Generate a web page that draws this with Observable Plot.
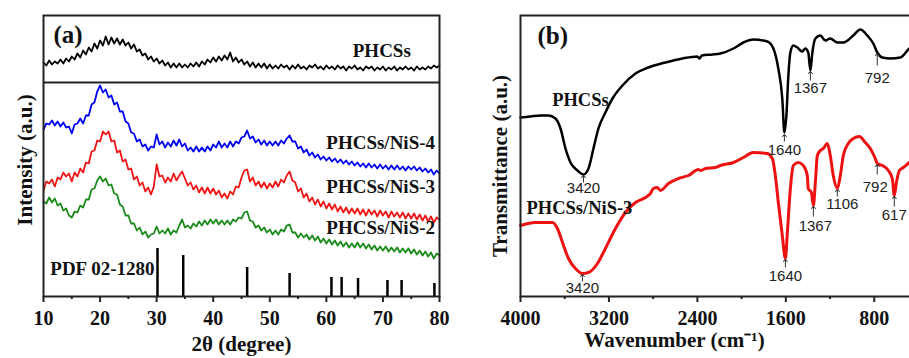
<!DOCTYPE html>
<html><head><meta charset="utf-8">
<script src="https://cdn.jsdelivr.net/npm/d3@7"></script>
<script src="https://cdn.jsdelivr.net/npm/@observablehq/plot@0.6"></script>
<style>
body{margin:0;background:#fff}
#wrap{position:relative;width:909px;height:358px;overflow:hidden;background:#fff}
#a{position:absolute;left:0;top:0;width:450px;height:358px}
#b{position:absolute;left:450px;top:0;width:480px;height:358px}
#wrap svg{max-width:none !important}
</style></head><body><div id="wrap"><div id="a"></div><div id="b"></div></div>
<script>
// ---------- Panel (a): XRD ----------
const xrdAngles = [10,10.5,11,11.5,12,12.5,13,13.5,14,14.5,15,15.5,16,16.5,17,17.5,18,18.5,19,19.5,20,20.5,21,21.5,22,22.5,23,23.5,24,24.5,25,25.5,26,26.5,27,27.5,28,28.5,29,29.5,30,30.5,31,31.5,32,32.5,33,33.5,34,34.5,35,35.5,36,36.5,37,37.5,38,38.5,39,39.5,40,40.5,41,41.5,42,42.5,43,43.5,44,44.5,45,45.5,46,46.5,47,47.5,48,48.5,49,49.5,50,50.5,51,51.5,52,52.5,53,53.5,54,54.5,55,55.5,56,56.5,57,57.5,58,58.5,59,59.5,60,60.5,61,61.5,62,62.5,63,63.5,64,64.5,65,65.5,66,66.5,67,67.5,68,68.5,69,69.5,70,70.5,71,71.5,72,72.5,73,73.5,74,74.5,75,75.5,76,76.5,77,77.5,78,78.5,79,79.5,80];
const xrdPHCSs = [234,231,236,232,235,233,237,233,238,235, 240,237,243,239,246,242,249,245,253,248, 256,251,260,252,259,253,258,252,257,251, 254,248,252,245,247,241,243,237,240,235, 238,233,236,231,234,229,233,229,233,229, 232,229,233,230,234,230,235,232,237,234, 239,235,240,236,241,237,244,235,239,234, 237,232,235,230,234,229,233,229,233,228, 232,228,231,228,232,229,231,227,231,228, 232,228,230,227,231,229,232,228,230,227, 231,228,230,227,231,228,230,226,230,228, 231,227,229,226,230,228,230,226,229,227, 230,226,229,227,230,226,229,227,230,227, 229,226,230,227,229,227,230,228,231,229, 231];
const xrdNiS4 = [167,173,172,176,171,175,170,174,169,170, 163,172,173,178,173,181,181,192,194,205, 211,204,207,199,201,192,194,185,185,175, 173,164,163,155,157,150,152,146,150,149, 162,152,155,149,154,150,156,151,157,150, 153,146,149,145,150,145,149,145,150,146, 152,149,155,149,153,149,155,150,155,153, 159,160,166,158,160,154,157,152,156,151, 155,151,155,151,156,153,158,161,155,155, 148,150,144,147,141,144,139,142,137,140, 136,139,135,138,134,137,133,136,132,135, 131,134,130,133,129,133,129,132,128,132, 128,131,127,131,127,131,127,130,126,130, 127,130,126,129,125,128,124,127,122,126, 123];
const xrdNiS3 = [106,115,113,117,110,119,117,124,120,123, 115,124,120,128,124,134,133,145,146,156, 155,165,162,165,155,156,144,146,135,137, 127,128,117,120,111,114,105,109,102,110, 132,120,121,114,119,115,123,116,121,125, 118,111,114,107,111,104,109,103,109,103, 108,102,106,99,103,98,105,102,110,109, 119,126,127,115,119,111,115,109,114,108, 113,109,115,110,117,114,121,125,116,114, 105,108,99,103,95,99,92,97,90,95, 88,93,87,92,85,90,84,89,83,88, 83,88,82,87,81,87,82,86,80,86, 81,85,79,85,80,84,79,84,78,83, 78,83,77,82,76,81,75,80,74,79, 77];
const xrdNiS2 = [95,93,99,94,98,91,93,86,88,81, 79,85,84,91,89,97,97,107,108,116, 120,115,118,111,112,103,102,92,90,81, 81,73,73,66,69,62,65,59,62,63, 70,63,66,63,68,62,66,64,71,77, 69,71,68,73,70,75,71,76,72,77, 73,77,72,76,72,76,72,77,75,79, 78,84,85,76,75,69,71,66,69,64, 67,62,66,62,67,65,71,72,64,64, 59,63,59,62,57,61,56,60,54,58, 53,57,52,56,51,55,50,54,49,53, 49,54,49,53,48,52,47,51,46,50, 46,50,45,49,45,49,44,48,44,48, 43,47,42,46,41,45,40,44,38,43, 41];
const xrdNames = ["PHCSs","PHCSs/NiS-4","PHCSs/NiS-3","PHCSs/NiS-2"];
const xrdColors = ["#000000","#0000f2","#f01414","#1a8a1a"];
const xrdLabelX = [69.8, 69.6, 69.6, 69.6];
const xrdLabelY = [246, 154, 110, 69];
const pdfPositions = [30.15,34.7,46,53.5,60.9,62.7,65.6,70.8,73.3,79.1];
const pdfHeights = [48,41,29,23,19,19,18,16,16,13];
const dividerLevel = 214;
const xrdMajorTicks = [10,20,30,40,50,60,70,80];
const xrdMinorTicks = [15,25,35,45,55,65,75];

// ---------- Panel (b): FTIR ----------
const ftirWnPHCSs = [4000,3910,3819,3747,3684,3638,3593,3548,3485,3430,3385,3340,3295,3232,3168,3078,2960,2843,2689,2535,2400,2380,2360,2264,2192,2074,1984,1894,1767,1713,1668,1632,1613,1595,1577,1559,1532,1496,1451,1424,1397,1378,1360,1333,1288,1243,1198,1134,1080,990,926,863,809,773,727,655,565,483,400];
const ftirTPHCSs = [179,180,181,181,178,168,148,134,126,122,128,148,168,184,198,211,223,229,234,238,240,238,241,242,243,248,254,257,255,248,228,198,164,181,221,244,251,249,245,248,244,226,244,258,261,256,258,254,254,261,267,261,253,244,239,238,239,248,254];
const ftirWnNiS3 = [4000,3864,3711,3666,3620,3566,3503,3440,3385,3304,3232,3141,3051,2960,2870,2825,2798,2762,2734,2662,2572,2481,2391,2373,2327,2237,2192,2074,1984,1894,1767,1722,1695,1668,1632,1604,1586,1559,1532,1487,1442,1406,1397,1369,1351,1333,1315,1288,1261,1225,1198,1171,1134,1107,1080,1035,990,935,881,836,791,773,727,673,637,619,600,573,537,483,400];
const ftirTNiS3 = [71,74,74,68,54,38,28,23,24,33,48,68,84,94,99,103,108,109,106,113,118,121,127,126,128,129,131,134,139,144,143,138,121,94,61,38,64,108,131,134,131,121,108,104,91,114,141,146,148,153,141,121,108,121,141,153,158,160,154,148,138,133,131,126,118,101,114,126,129,134,140];
const ftirNames = ["PHCSs","PHCSs/NiS-3"];
const ftirColors = ["#000000","#ee1111"];
const ftirLabelWn = [3458, 3467];
const ftirLabelY = [196, 88];
// peak annotations: label, arrow position, arrow tip/tail, text position
const peakLabels = ["3420","1640","1367","792","3420","1640","1367","1106","792","617"];
const peakWn     = [3430,1613,1378,773,3440,1604,1351,1134,773,619];
const peakTip    = [120,161,224,242,21,36,89,106,131,99];
const peakTail   = [114,155,216,231,15,29,80,100,122,90];
const peakTextWn = [3430,1613,1378,773,3440,1604,1333,1089,791,619];
const peakTextY  = [108,146,208,218,8,20,70,92,109,81];
const ftirMajorTicks = [4000,3200,2400,1600,800];
const ftirMinorTicks = [3600,2800,2000,1200,400];

const serif = "Liberation Serif";
const sans = "Liberation Sans";
const frameColor = "#222";

// tables
const xrdTables = xrdNames.map((n, k) => {
  const vals = [xrdPHCSs, xrdNiS4, xrdNiS3, xrdNiS2][k];
  return xrdAngles.map((a, i) => ({angle: a, value: vals[i], series: n}));
});
const pdf = pdfPositions.map((p, i) => ({pos: p, h: pdfHeights[i]}));
const xrdLabels = xrdNames.map((n, k) => ({t: n, x: xrdLabelX[k], y: xrdLabelY[k]}));

const ftirTables = [
  ftirWnPHCSs.map((w, i) => ({wn: w, t: ftirTPHCSs[i]})),
  ftirWnNiS3.map((w, i) => ({wn: w, t: ftirTNiS3[i]}))
];
const ftirLabels = ftirNames.map((n, k) => ({t: n, x: ftirLabelWn[k], y: ftirLabelY[k]}));
const peaks = peakLabels.map((l, i) => ({label: l, wn: peakWn[i], tip: peakTip[i], tail: peakTail[i], tx: peakTextWn[i], ty: peakTextY[i]}));

const boldSerif = {fontWeight: "bold", fontFamily: serif, fill: "#111"};

const plotA = Plot.plot({
  width: 450, height: 358,
  marginLeft: 43, marginRight: 11, marginTop: 15, marginBottom: 62,
  style: {fontFamily: serif, fontWeight: "bold", background: "white", color: "#000"},
  x: {domain: [10, 80], label: null},
  y: {domain: [0, 281], axis: null},
  marks: [
    Plot.ruleX(pdf, {x: "pos", y1: 0, y2: "h", stroke: "#000", strokeWidth: 2.5}),
    ...xrdTables.map((tbl, k) => Plot.line(tbl, {x: "angle", y: "value", stroke: xrdColors[k], strokeWidth: 1.8})),
    Plot.ruleY([dividerLevel], {stroke: frameColor, strokeWidth: 2}),
    Plot.frame({stroke: frameColor, strokeWidth: 2}),
    Plot.axisX({ticks: xrdMajorTicks, tickSize: 6, tickFormat: () => "", strokeWidth: 2, stroke: frameColor, label: null}),
    Plot.axisX({ticks: xrdMinorTicks, tickSize: 3, tickFormat: () => "", strokeWidth: 2, stroke: frameColor, label: null}),
    Plot.text(xrdMajorTicks, {x: d => d, frameAnchor: "bottom", dy: 22, lineAnchor: "middle", text: d => String(d), fontSize: 20, ...boldSerif}),
    Plot.text(xrdLabels, {x: "x", y: "y", text: "t", fontSize: 19, ...boldSerif}),
    Plot.text(["PDF 02-1280"], {x: [11.2], y: [28], textAnchor: "start", fontSize: 19, ...boldSerif}),
    Plot.text(["(a)"], {frameAnchor: "top-left", dx: 10, dy: 19, lineAnchor: "middle", textAnchor: "start", fontSize: 25, ...boldSerif}),
    Plot.text(["Intensity (a.u.)"], {frameAnchor: "left", rotate: -90, dx: -18, dy: 4, textAnchor: "middle", lineAnchor: "middle", fontSize: 21, ...boldSerif}),
    Plot.text(["2θ (degree)"], {frameAnchor: "bottom", dy: 48, lineAnchor: "middle", fontSize: 21, ...boldSerif})
  ]
});
document.getElementById("a").appendChild(plotA);

const plotB = Plot.plot({
  width: 480, height: 358,
  marginLeft: 70, marginRight: 12, marginTop: 15, marginBottom: 62,
  style: {fontFamily: serif, fontWeight: "bold", background: "white", color: "#000"},
  x: {domain: [4000, 400], label: null},
  y: {domain: [0, 281], axis: null},
  marks: [
    ...ftirTables.map((tbl, k) => Plot.line(tbl, {x: "wn", y: "t", stroke: ftirColors[k], strokeWidth: k ? 3 : 2.5, curve: "monotone-x"})),
    Plot.frame({stroke: frameColor, strokeWidth: 2}),
    Plot.axisX({ticks: ftirMajorTicks, tickSize: 6, tickFormat: () => "", strokeWidth: 2, stroke: frameColor, label: null}),
    Plot.axisX({ticks: ftirMinorTicks, tickSize: 3, tickFormat: () => "", strokeWidth: 2, stroke: frameColor, label: null}),
    Plot.text(ftirMajorTicks, {x: d => d, frameAnchor: "bottom", dy: 22, lineAnchor: "middle", text: d => String(d), fontSize: 20, ...boldSerif}),
    Plot.link(peaks, {x1: "wn", x2: "wn", y1: "tail", y2: "tip", stroke: "#333", strokeWidth: 1, markerEnd: "arrow"}),
    Plot.text(peaks, {x: "tx", y: "ty", text: "label", fontSize: 15, fontWeight: "normal", fontFamily: sans, fill: "#222"}),
    Plot.text(ftirLabels, {x: "x", y: "y", text: "t", fontSize: 18.5, ...boldSerif}),
    Plot.text(["(b)"], {frameAnchor: "top-left", dx: 17, dy: 20, lineAnchor: "middle", textAnchor: "start", fontSize: 25, ...boldSerif}),
    Plot.text(["Transmittance (a.u.)"], {frameAnchor: "left", rotate: -90, dx: -20, dy: 10, textAnchor: "middle", lineAnchor: "middle", fontSize: 21, ...boldSerif}),
    Plot.text(["Wavenumber (cm⁻¹)"], {frameAnchor: "bottom", dx: -45, dy: 44, lineAnchor: "middle", fontSize: 21, ...boldSerif})
  ]
});
document.getElementById("b").appendChild(plotB);
</script>
</body></html>
